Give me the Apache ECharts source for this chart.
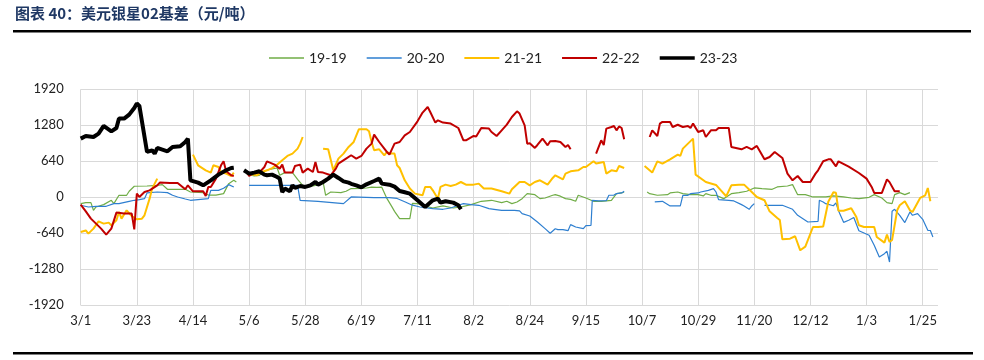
<!DOCTYPE html>
<html>
<head>
<meta charset="utf-8">
<script src="https://cdn.jsdelivr.net/npm/echarts@6/dist/echarts.min.js"></script>
<style>
html,body{margin:0;padding:0;background:#fff;}
#c{width:984px;height:360px;}
</style>
</head>
<body>
<div id="c"></div>
<script>
// x values are calendar-day offsets from 3/1 (3/1 = 0, 1/25 = 330)
var tickLabels = ['3/1','3/23','4/14','5/6','5/28','6/19','7/11','8/2','8/24','9/15','10/7','10/29','11/20','12/12','1/3','1/25'];
var seriesNames = ['19-19','20-20','21-21','22-22','23-23'];

var s1919 = [[0,-113],[2,-95],[4,-95],[5,-231],[6,-172],[9,-130],[12,-53],[13,-113],[15,36],[18,36],[19,107],[21,196],[26,201],[30,213],[32,225],[34,142],[41,142],[43,94],[48,83],[50,40],[53,40],[56,65],[58,243],[60,302],[61,272],[62,null],
[65,421],[66,403],[68,380],[70,391],[72,462],[74,497],[77,521],[78,391],[80,439],[83,439],[85,320],[87,213],[89,184],[92,213],[94,225],[95,272],[96,36],[98,94],[102,83],[104,107],[106,155],[110,160],[112,165],[114,180],[116,175],[118,180],[120,-20],[122,-170],[123,-250],[125,-379],[127,-379],[129,-379],[130,-107],[132,-113],[135,-154],[138,-190],[142,-154],[146,-190],[149,-172],[153,-130],[157,-71],[161,-53],[165,-95],[167,-71],[169,-113],[171,-83],[173,-24],[175,65],[178,47],[180,-24],[182,-12],[185,36],[186,47],[188,20],[190,-24],[192,-36],[194,-71],[195,36],[198,-12],[201,-71],[204,-71],[208,-53],[210,65],[212,77],[213,94],[217,null],
[222,94],[223,65],[226,36],[230,47],[231,77],[234,94],[236,65],[239,47],[242,47],[244,24],[245,65],[247,36],[249,36],[252,-24],[255,65],[258,83],[261,107],[264,166],[267,155],[271,142],[273,184],[277,201],[279,225],[281,47],[284,47],[287,6],[292,6],[295,24],[299,6],[302,-12],[305,-24],[309,0],[311,47],[314,-12],[316,-95],[318,-113],[319,47],[321,83],[323,47],[325,83]];

var s2020 = [[0,-142],[3,-172],[6,-160],[10,-160],[13,-113],[15,-113],[19,-71],[21,-53],[23,-40],[25,-24],[26,77],[30,94],[34,83],[36,36],[38,6],[41,-30],[43,-53],[50,-24],[51,124],[54,124],[56,160],[58,225],[60,184],[62,null],
[66,213],[85,213],[86,-53],[93,-71],[103,-113],[106,6],[115,-6],[121,-6],[124,-20],[127,-80],[130,-140],[133,-172],[138,-201],[142,-213],[145,-190],[148,-142],[150,-113],[153,-130],[156,-142],[160,-201],[162,-213],[165,-231],[170,-231],[172,-240],[173,-290],[176,-332],[179,-439],[182,-557],[184,-640],[185,-600],[186,-560],[187,-575],[189,-575],[191,-593],[192,-486],[194,-528],[197,-557],[198,-504],[200,-498],[200.5,-53],[203,-65],[206,-60],[207,36],[209,40],[210,65],[212,77],[213,107],[219,null],
[225,-83],[228,-71],[231,-154],[235,-154],[236,36],[238,36],[239,65],[242,77],[243,94],[246,124],[248,155],[249,94],[250,-41],[254,-53],[256,-65],[259,-130],[260,-154],[262,-213],[263,-154],[264,-113],[266,null],
[268,-142],[275,-142],[279,-213],[281,-320],[285,-439],[289,-427],[289.5,-53],[291,-83],[292,-113],[295,-150],[296,-100],[297,-240],[299,-445],[301,-409],[303,-360],[305,-595],[307,-635],[309,-675],[311,-853],[313,-1061],[315,-1002],[316,-960],[317,-1150],[318,-249],[319,-213],[321,-320],[323,-450],[325,-261],[326,-320],[328,-290],[330,-391],[332,-587],[333,-590],[334,-705]];

var s2121 = [[0,-616],[2,-590],[3,-646],[5,-557],[7,-427],[9,-468],[11,-450],[12,-498],[14,-409],[15,-261],[16,-379],[18,-231],[20,-332],[22,-391],[24,-380],[25,-320],[27,-24],[28,155],[30,332],[37,null],
[44,759],[46,569],[49,480],[51,439],[52,569],[54,540],[55,450],[57,420],[59,379],[60,439],[62,null],
[66,421],[69,391],[71,450],[73,480],[75,520],[77,581],[79,658],[81,735],[83,777],[85,865],[86,954],[87,1072],[91,null],
[95,865],[97,853],[99,480],[101,688],[103,777],[105,895],[107,984],[109,1209],[112,1209],[113,1173],[114,984],[115,836],[117,853],[119,747],[120,806],[121,777],[123,777],[124,569],[125,521],[127,302],[129,155],[131,65],[134,36],[135,184],[137,184],[138,124],[140,-24],[141,184],[143,225],[145,201],[147,225],[149,272],[151,225],[154,225],[156,243],[158,155],[161,155],[165,107],[168,65],[169,142],[172,272],[174,272],[176,213],[178,272],[180,302],[183,225],[185,344],[186,391],[189,320],[190,421],[192,462],[195,480],[197,539],[198,539],[201,640],[202,600],[205,628],[206,421],[208,480],[210,462],[211,557],[213,521],[217,null],
[221,557],[224,439],[226,640],[228,600],[231,675],[234,759],[235,735],[236,865],[238,954],[240,1043],[241,403],[245,272],[249,220],[251,120],[253,18],[255,213],[258,225],[260,225],[263,94],[265,6],[268,-53],[270,-249],[273,-367],[274,-403],[275,-747],[278,-735],[280,-693],[282,-942],[284,-877],[287,-528],[289,-528],[291,-520],[293,-80],[295,88],[296,80],[297,-240],[299,-240],[302,-195],[304,-350],[305,-498],[307,-528],[311,-528],[312,-705],[315,-806],[316,-664],[317,-794],[318,-760],[320,-231],[321,-142],[323,-71],[325,-231],[326,-261],[329,-12],[331,36],[332,166],[333,-71]];

var s2222 = [[0,-130],[2,-249],[4,-379],[8,-557],[10,-664],[12,-557],[14,-272],[17,-290],[20,-290],[21,-569],[22,65],[23,6],[25,94],[27,124],[30,213],[31,261],[35,255],[38,255],[41,142],[42,213],[44,107],[48,107],[49,24],[50,184],[51,184],[53,332],[55,569],[56,640],[57,462],[59,391],[60,379],[62,null],
[65,462],[66,379],[68,439],[70,439],[72,539],[73,640],[76,581],[78,510],[79,581],[80,439],[83,439],[84,557],[86,581],[87,439],[89,510],[91,450],[92,628],[93,450],[95,439],[98,391],[100,510],[101,599],[104,688],[106,747],[108,688],[110,735],[112,865],[114,954],[115,1114],[117,983],[119,865],[120,806],[121,760],[123,954],[125,983],[127,1102],[129,1161],[132,1351],[134,1506],[136,1605],[137,1517],[139,1328],[140,1369],[142,1328],[145,1310],[148,1232],[150,1013],[151,1013],[154,1090],[155,1080],[157,1232],[160,1221],[161,1161],[163,1090],[165,1191],[167,1292],[169,1428],[171,1529],[172,1488],[174,1280],[175,954],[176,960],[178,877],[179,930],[181,1043],[183,925],[184,996],[186,1000],[188,983],[190,895],[191,930],[192,853],[197,null],
[202,777],[204,1013],[205,930],[206,1221],[208,1250],[209,1268],[210,1190],[211,1260],[212,1232],[213,1031],[218,null],
[223,1072],[224,1191],[226,1090],[227,1310],[228,1340],[231,1340],[232,1250],[234,1290],[236,1250],[238,1268],[239,1232],[240,1310],[242,1161],[244,1191],[245,1072],[247,1191],[249,1191],[250,1232],[254,1232],[255,895],[259,853],[261,895],[263,853],[265,913],[268,676],[270,717],[272,806],[275,700],[277,421],[279,302],[281,379],[283,272],[286,272],[288,421],[289,480],[291,640],[293,675],[294,675],[296,551],[297,640],[301,545],[305,432],[308,332],[310,184],[311,77],[314,77],[316,320],[317,270],[319,107],[321,107]];

var s2323 = [[0,1043],[2,1090],[5,1072],[7,1132],[9,1268],[12,1173],[14,1232],[15,1399],[17,1399],[19,1470],[21,1588],[22,1666],[23,1624],[26,806],[28,836],[29,777],[30,877],[34,818],[36,895],[39,907],[41,984],[42,1043],[43,302],[46,261],[48,213],[51,302],[54,403],[57,480],[59,521],[60,527],[62,null],
[64,480],[66,421],[68,439],[70,462],[72,403],[73,391],[75,403],[77,361],[78,332],[79,94],[80,155],[82,107],[83,213],[84,166],[86,201],[88,184],[90,213],[92,272],[93,225],[95,272],[97,332],[99,403],[101,344],[103,284],[105,261],[106,240],[108,213],[110,178],[112,231],[115,290],[117,332],[118,243],[121,225],[123,190],[125,112],[127,90],[129,65],[132,-53],[135,-172],[138,-53],[140,-24],[141,-95],[143,-71],[146,-95],[148,-142],[149,-213]];

var dataSets = [s1919, s2020, s2121, s2222, s2323];
var colors = ['#70ad47', '#2e7fd0', '#ffc000', '#c00000', '#000000'];
var widths = [1.2, 1.2, 2, 2, 4];

// legend icons: a horizontal bar centred in a 35x10 box, bar thickness per series
function barIcon(h) {
  var a = (5 - h / 2).toFixed(2), b = (5 + h / 2).toFixed(2);
  return 'path://M0,0L35,0L35,0.01L0,0.01ZM0,' + a + 'L35,' + a + 'L35,' + b + 'L0,' + b + 'ZM0,9.99L35,9.99L35,10L0,10Z';
}
var legendThick = [1.5, 1.5, 1.8, 1.8, 3.5];

var chart = echarts.init(document.getElementById('c'), null, {renderer: 'canvas'});
var gridColors = [];
for (var i = 0; i < tickLabels.length; i++) gridColors.push('#d9d9d9');
gridColors.push('rgba(0,0,0,0)');

var option = {
  animation: false,
  backgroundColor: '#fff',
  textStyle: {fontFamily: 'Lato, "Noto Sans", sans-serif'},
  graphic: [
    {type: 'text', left: 15, top: 6, style: {text: '图表 40：美元银星02基差（元/吨）', font: 'bold 15px "Noto Sans CJK SC", sans-serif', fill: '#1f3864'}},
    {type: 'rect', shape: {x: 13, y: 30, width: 958, height: 2.5}, style: {fill: '#000'}},
    {type: 'rect', shape: {x: 13, y: 352, width: 960, height: 2.5}, style: {fill: '#000'}}
  ],
  legend: {
    top: 46,
    left: 264,
    itemWidth: 35,
    itemHeight: 10,
    itemGap: 20,
    itemStyle: {borderWidth: 0},
    data: seriesNames.map(function (n, i) {
      return {name: n, icon: barIcon(legendThick[i]), itemStyle: {color: colors[i], borderWidth: 0}};
    }),
    textStyle: {fontSize: 14, color: '#222', fontFamily: 'Lato, sans-serif'}
  },
  grid: {left: 80.7, right: 46, top: 89.3, bottom: 54.7},
  xAxis: {
    type: 'value', min: 0, max: 336, interval: 22,
    axisLine: {show: false}, axisTick: {show: false},
    axisLabel: {
      margin: 9, fontSize: 13, color: '#222',
      formatter: function (v) { var k = Math.round(v / 22); return (v % 22 === 0 && tickLabels[k]) ? tickLabels[k] : ''; }
    },
    splitLine: {show: true, lineStyle: {color: gridColors, width: 1}}
  },
  yAxis: {
    type: 'value', min: -1920, max: 1920, interval: 640,
    axisLine: {show: false}, axisTick: {show: false},
    axisLabel: {margin: 17, fontSize: 13, color: '#222', formatter: function (v) { return String(v); }},
    splitLine: {show: true, lineStyle: {color: '#d9d9d9', width: 1}}
  },
  series: seriesNames.map(function (n, i) {
    return {
      name: n, type: 'line', data: dataSets[i], symbol: 'none', showSymbol: false,
      connectNulls: false, smooth: false,
      lineStyle: {color: colors[i], width: widths[i]},
      itemStyle: {color: colors[i]},
      z: 2 + i
    };
  })
};
chart.setOption(option);
</script>
</body>
</html>
